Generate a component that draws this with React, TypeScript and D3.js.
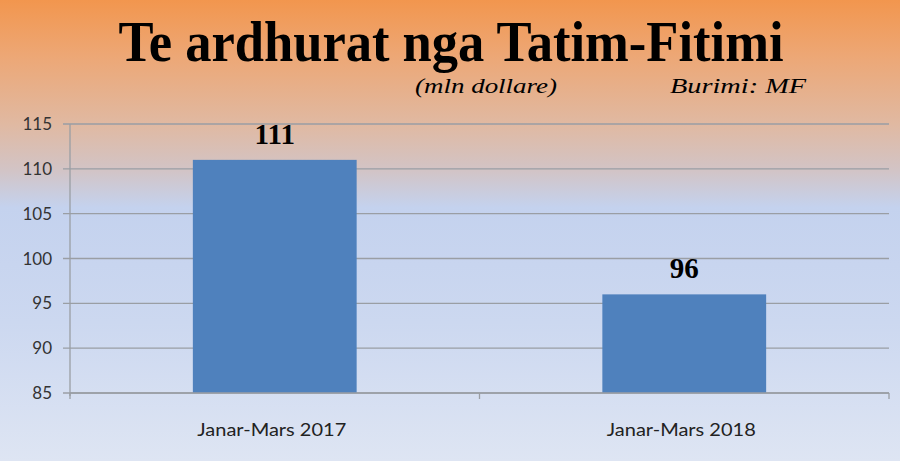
import React from "react";
import * as d3 from "d3";

const categories = ["Janar-Mars 2017", "Janar-Mars 2018"];
const values = [111, 96];
const yTicks = [85, 90, 95, 100, 105, 110, 115];
const title = "Te ardhurat nga Tatim-Fitimi";
const unitLabel = "(mln dollare)";
const sourceLabel = "Burimi: MF";

const W = 900;
const H = 461;

export default function App() {
  const x = d3.scaleBand<string>().domain(categories).range([70, 889]).paddingInner(0).paddingOuter(0);
  const y = d3.scaleLinear().domain([85, 115]).range([393, 124]);
  const bw = x.bandwidth() * 0.4;

  return (
    <svg width={W} height={H} style={{ position: "absolute", left: 0, top: 0, display: "block" }}>
      <defs>
        <linearGradient id="bg" x1="0" y1="0" x2="0" y2="1">
          <stop offset="0" stopColor="#F2964E" />
          <stop offset="0.12" stopColor="#EDA775" />
          <stop offset="0.27" stopColor="#E0B9A2" />
          <stop offset="0.37" stopColor="#D2C4C6" />
          <stop offset="0.45" stopColor="#C4D2EE" />
          <stop offset="0.7" stopColor="#CCD8F0" />
          <stop offset="1" stopColor="#DEE5F3" />
        </linearGradient>
      </defs>
      <rect x={0} y={0} width={W} height={H} fill="url(#bg)" />

      <text
        x={451}
        y={61}
        textAnchor="middle"
        fontFamily="'Liberation Serif', 'Times New Roman', serif"
        fontWeight="bold"
        fontSize={56}
        textLength={665}
        lengthAdjust="spacingAndGlyphs"
        fill="#000"
      >
        {title}
      </text>
      <text
        x={486}
        y={93}
        textAnchor="middle"
        fontFamily="'Liberation Serif', 'Times New Roman', serif"
        fontStyle="italic"
        fontSize={22}
        textLength={142}
        lengthAdjust="spacingAndGlyphs"
        fill="#000"
      >
        {unitLabel}
      </text>
      <text
        x={738}
        y={93}
        textAnchor="middle"
        fontFamily="'Liberation Serif', 'Times New Roman', serif"
        fontStyle="italic"
        fontSize={22}
        textLength={136}
        lengthAdjust="spacingAndGlyphs"
        fill="#000"
      >
        {sourceLabel}
      </text>

      {yTicks.map((t) => (
        <g key={t}>
          <line x1={63} x2={889} y1={y(t)} y2={y(t)} stroke="#9A9EA4" strokeWidth={1.3} />
          <text
            x={52}
            y={y(t)}
            dy="0.36em"
            textAnchor="end"
            fontFamily="Lato, 'Open Sans', sans-serif"
            fontSize={17}
            fill="#333"
          >
            {t}
          </text>
        </g>
      ))}

      <line x1={70} x2={70} y1={124} y2={396} stroke="#9A9EA4" strokeWidth={1.3} />

      {categories.map((c, i) => {
        const cx = (x(c) as number) + x.bandwidth() / 2;
        return (
          <g key={c}>
            <rect x={cx - bw / 2} y={y(values[i])} width={bw} height={y(85) - y(values[i])} fill="#4F81BD" />
            <text
              x={cx}
              y={y(values[i]) - 16}
              textAnchor="middle"
              fontFamily="'Liberation Serif', 'Times New Roman', serif"
              fontWeight="bold"
              fontSize={29}
              fill="#000"
            >
              {values[i]}
            </text>
            <text
              x={cx - 3}
              y={436}
              textAnchor="middle"
              fontFamily="Lato, 'Open Sans', sans-serif"
              fontSize={17}
              textLength={149}
              lengthAdjust="spacingAndGlyphs"
              fill="#222"
            >
              {c}
            </text>
          </g>
        );
      })}

      <line x1={70} x2={889} y1={393} y2={393} stroke="#9A9EA4" strokeWidth={1.3} />
      {[...categories.map((c) => x(c) as number), 889].map((tx, i) => (
        <line key={i} x1={tx} x2={tx} y1={393} y2={399} stroke="#9A9EA4" strokeWidth={1.3} />
      ))}
    </svg>
  );
}
